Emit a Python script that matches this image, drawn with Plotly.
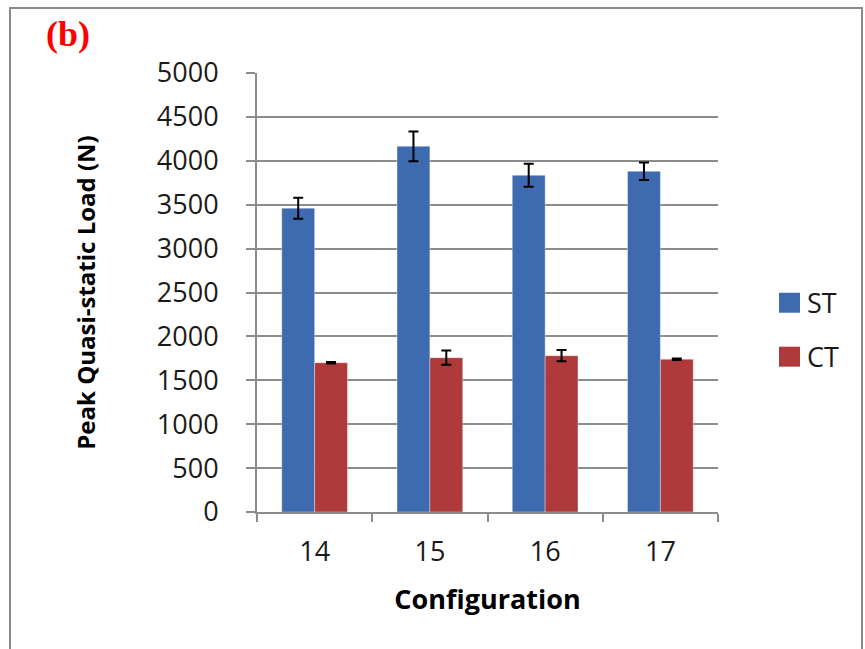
import plotly.graph_objects as go

# Peak quasi-static load per configuration, standard vs. composite tube
configurations = ["14", "15", "16", "17"]
st_load = [3460, 4165, 3835, 3880]
st_err = [120, 170, 130, 100]
ct_load = [1700, 1758, 1780, 1740]
ct_err = [8, 82, 64, 8]

series_names = ["ST", "CT"]
series_colors = ["#3E6AAF", "#AF3A3B"]
y_ticks = list(range(0, 5001, 500))

W, H = 865, 649
L, R, T, B = 257, 147, 73, 136.5
plot_w = W - L - R
plot_h = H - T - B


def px_x(px):
    return (px - L) / plot_w


def px_y(py):
    return (H - B - py) / plot_h


grid = "#8C8C8C"
tick_font = dict(family="Open Sans", size=27, color="#1a1a1a")

fig = go.Figure()
for name, vals, errs, color in zip(series_names, [st_load, ct_load], [st_err, ct_err], series_colors):
    fig.add_trace(go.Bar(
        x=configurations, y=vals, name=name,
        marker=dict(color=color, line=dict(color="rgba(255,255,255,0.35)", width=1)),
        error_y=dict(type="data", array=errs, visible=True, color="black", thickness=2, width=5),
        showlegend=False,
    ))

fig.update_layout(
    width=W, height=H,
    margin=dict(l=L, r=R, t=T, b=B),
    paper_bgcolor="white", plot_bgcolor="white",
    barmode="group", bargap=0.43, bargroupgap=0,
    xaxis=dict(
        type="category", tickson="boundaries",
        ticks="outside", ticklen=8, tickwidth=2, tickcolor=grid,
        showline=True, linecolor=grid, linewidth=2,
        showgrid=False, tickfont=tick_font, ticklabelstandoff=15,
        title=dict(text="<b>Configuration</b>", standoff=22,
                   font=dict(family="Open Sans", size=27, color="black")),
    ),
    yaxis=dict(
        range=[0, 5000], tickvals=y_ticks,
        ticks="outside", ticklen=9, tickwidth=2, tickcolor=grid,
        showline=True, linecolor=grid, linewidth=2,
        showgrid=True, gridcolor=grid, gridwidth=2,
        tickfont=tick_font, ticklabelstandoff=22, zeroline=False,
        title=dict(text="<b>Peak Quasi-static Load (N)</b>", standoff=54,
                   font=dict(family="Open Sans", size=24, color="black")),
    ),
)

# Panel frame
fig.add_shape(type="rect", xref="paper", yref="paper",
              x0=px_x(10), x1=px_x(862), y0=px_y(680), y1=px_y(8),
              line=dict(color="#8A8A8A", width=2), fillcolor="rgba(0,0,0,0)", layer="below")

# Panel label
fig.add_annotation(text="<b>(b)</b>", xref="paper", yref="paper",
                   x=px_x(68), y=px_y(34), xanchor="center", yanchor="middle",
                   showarrow=False, font=dict(family="Liberation Serif", size=36, color="red"))

# Legend: swatches and labels
for i, (name, color) in enumerate(zip(series_names, series_colors)):
    cy = 303 + i * 54
    fig.add_shape(type="rect", xref="paper", yref="paper",
                  x0=px_x(779), x1=px_x(800), y0=px_y(cy + 10), y1=px_y(cy - 10),
                  fillcolor=color, line=dict(width=0))
    fig.add_annotation(text=name, xref="paper", yref="paper",
                       x=px_x(805), y=px_y(cy), xanchor="left", yanchor="middle",
                       showarrow=False, font=tick_font)

fig.write_html("out.html")
